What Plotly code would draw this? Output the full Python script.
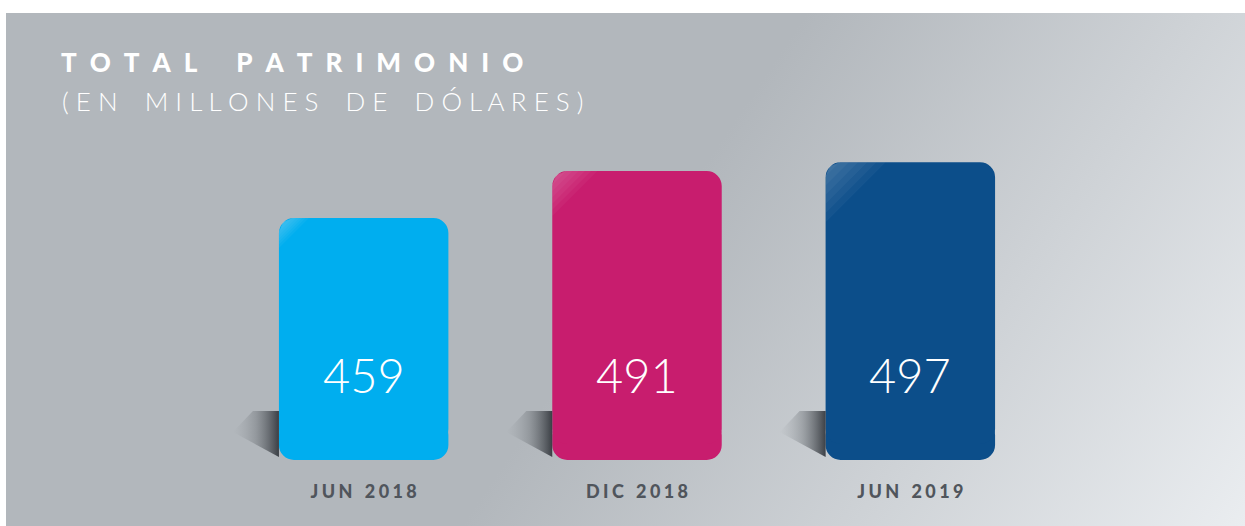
import base64
import plotly.graph_objects as go

categories = ["JUN 2018", "DIC 2018", "JUN 2019"]
values = [459, 491, 497]
colors = ["#00aeef", "#c81d6e", "#0c4e8a"]

title = "TOTAL PATRIMONIO"
subtitle = "(EN MILLONES DE DÓLARES)"

W, H = 1245, 526
L, R, T, B = 227, 198, 130, 66
pw, ph = W - L - R, H - T - B
y_floor, y_top = 294, 519
ppy = ph / (y_top - y_floor)  # pixels per unit
ppx = pw / 3.0
bar_w = 0.62


def spaced(s, gap, word_gap):
    return word_gap.join(gap.join(w) for w in s.split(" "))


def px_x(px):
    return (px - L) / pw


def px_y(py):
    return 1 - (py - T) / ph


fig = go.Figure()

# shadows behind the bars
for i, v in enumerate(values):
    x0 = i - bar_w / 2
    pts = [(0, -49), (-26, -49), (-46, -28), (0, -3)]
    fig.add_trace(go.Scatter(
        x=[x0 + dx / ppx for dx, dy in pts],
        y=[y_floor - dy / ppy for dx, dy in pts],
        mode="lines", fill="toself", line=dict(width=0),
        fillgradient=dict(type="horizontal", colorscale=[
            [0, "rgba(150,155,160,0)"], [0.5, "rgba(110,115,120,0.45)"],
            [1, "rgba(45,49,55,0.9)"]]),
        hoverinfo="skip", showlegend=False))

# bars: lower piece rounded at the bottom, upper piece rounded at the top
lo_top = y_floor + 40 / ppy
up_base = y_floor + 16 / ppy
fig.add_trace(go.Bar(
    x=list(range(len(values))), y=[-(lo_top - y_floor)] * len(values), base=lo_top,
    width=bar_w, marker=dict(color=colors, cornerradius=15, line=dict(width=0)),
    hoverinfo="skip", showlegend=False))
fig.add_trace(go.Bar(
    x=list(range(len(values))), y=[v - up_base for v in values], base=up_base,
    width=bar_w, marker=dict(color=colors, cornerradius=15, line=dict(width=0)),
    customdata=values, hovertemplate="%{customdata}<extra></extra>",
    showlegend=False))

# soft gloss on the top-left corner of each bar (stacked faint triangles)
gloss_size = [30, 45, 60]
for i, v in enumerate(values):
    x0 = i - bar_w / 2
    for k in range(6):
        s = 14 + k * (gloss_size[i] - 14) / 5
        pts = [(0, 14), (4, 4), (14, 0), (s, 0), (0, s)]
        fig.add_trace(go.Scatter(
            x=[x0 + dx / ppx for dx, dy in pts],
            y=[v - dy / ppy for dx, dy in pts],
            mode="lines", fill="toself", line=dict(width=0),
            fillcolor="rgba(255,255,255,0.04)",
            hoverinfo="skip", showlegend=False))

for i, v in enumerate(values):
    fig.add_annotation(x=i, y=y_floor, yshift=85, text=str(v), showarrow=False,
                       font=dict(family="Lato", size=47, color="white", weight=300))

fig.add_annotation(xref="paper", yref="paper", x=px_x(59), y=px_y(62),
                   xanchor="left", yanchor="middle", showarrow=False,
                   text=spaced(title, "\u2002", "\u2002\u2002\u2002"),
                   font=dict(family="Lato", size=26, color="white", weight=900))
fig.add_annotation(xref="paper", yref="paper", x=px_x(60), y=px_y(101),
                   xanchor="left", yanchor="middle", showarrow=False,
                   text=spaced(subtitle, "\u00a0", "\u2002\u00a0\u00a0"),
                   font=dict(family="Lato", size=26, color="white", weight=300))

svg = (
    '<svg xmlns="http://www.w3.org/2000/svg" width="1239" height="513">'
    '<defs><linearGradient id="g" x1="700" y1="150" x2="1239" y2="513" '
    'gradientUnits="userSpaceOnUse"><stop offset="0" stop-color="#b2b7bc"/>'
    '<stop offset="1" stop-color="#eaedf0"/></linearGradient></defs>'
    '<rect width="1239" height="513" fill="url(#g)"/></svg>'
)
src = "data:image/svg+xml;base64," + base64.b64encode(svg.encode()).decode()
fig.add_layout_image(source=src, xref="paper", yref="paper",
                     x=px_x(6), y=px_y(13), sizex=1239 / pw, sizey=513 / ph,
                     xanchor="left", yanchor="top", sizing="stretch",
                     layer="below")

fig.update_layout(
    width=W, height=H, margin=dict(l=L, r=R, t=T, b=B),
    paper_bgcolor="white", plot_bgcolor="rgba(0,0,0,0)",
    barmode="overlay",
    xaxis=dict(range=[-0.5, 2.5], tickvals=list(range(len(categories))),
               ticktext=[spaced(c, "\u2009\u200a", "\u2002\u2009\u200a") for c in categories],
               tickfont=dict(family="Lato", size=18, color="#50555c", weight=900),
               ticklabelstandoff=19, showgrid=False, zeroline=False,
               showline=False, ticks=""),
    yaxis=dict(range=[y_floor, y_top], visible=False, showgrid=False),
)

fig.write_html("out.html", config={"displayModeBar": False},
               post_script="document.body.style.margin='0';")
